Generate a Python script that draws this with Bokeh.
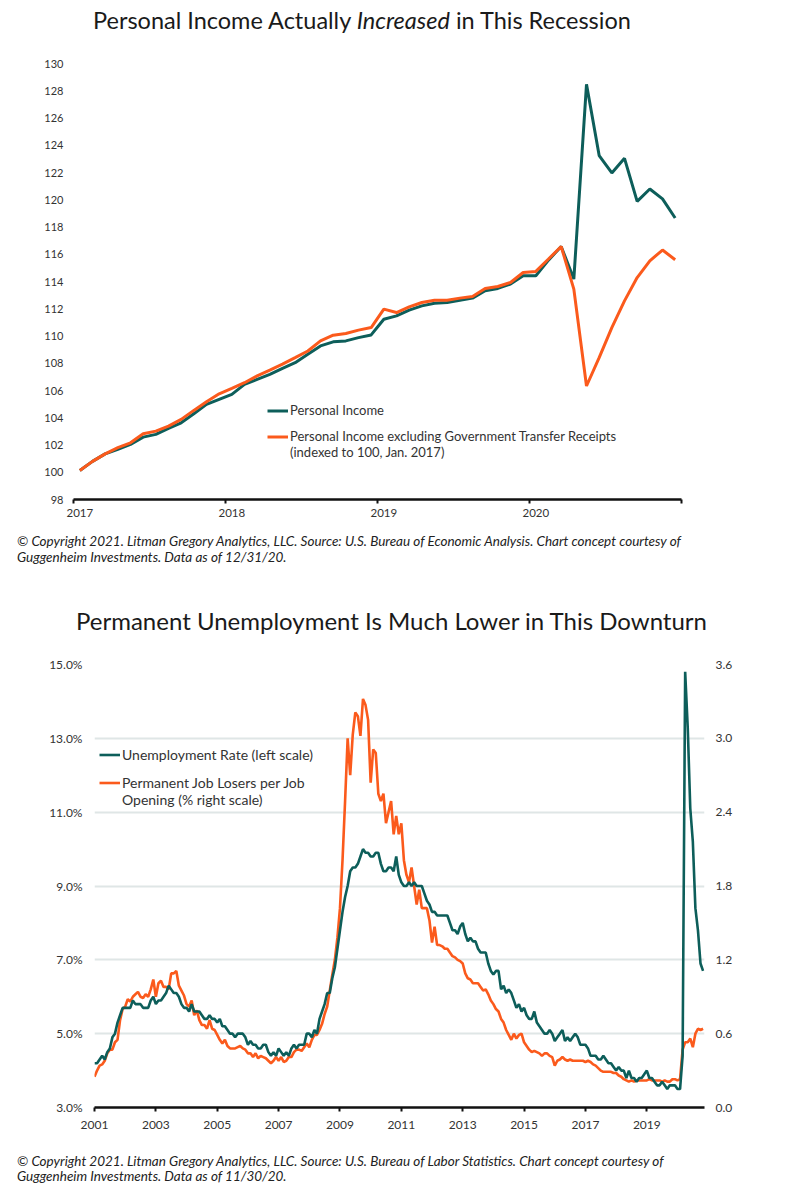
from bokeh.plotting import figure
from bokeh.models import (Range1d, LinearAxis, FixedTicker, PrintfTickFormatter,
                          CustomJSTickFormatter, Legend, LegendItem, Div)
from bokeh.layouts import column
from bokeh.embed import file_html
from bokeh.resources import INLINE

FONT = "Lato"
TEAL = "#0d5e5a"
ORANGE = "#fb5a1c"
TXT = "#333333"
W = 798

# ---------------- Chart 1 data: monthly, Jan 2017 .. Dec 2020 (index, Jan 2017 = 100)
pi_years = [2017, 2018, 2019, 2020]
personal_income = [
    100.13, 100.80, 101.35, 101.68, 102.04, 102.58, 102.78, 103.22, 103.63, 104.29, 104.98, 105.35,
    105.72, 106.45, 106.82, 107.19, 107.63, 108.04, 108.66, 109.27, 109.57, 109.64, 109.88, 110.08,
    111.23, 111.48, 111.90, 112.21, 112.41, 112.46, 112.63, 112.78, 113.32, 113.49, 113.81, 114.42,
    114.42, 115.57, 116.57, 114.18, 128.47, 123.24, 121.97, 123.04, 119.88, 120.79, 120.06, 118.66,
]
pi_ex_transfers = [
    100.13, 100.80, 101.35, 101.80, 102.16, 102.82, 103.02, 103.39, 103.88, 104.54, 105.18, 105.76,
    106.16, 106.57, 107.07, 107.49, 107.93, 108.41, 108.90, 109.64, 110.06, 110.18, 110.43, 110.62,
    111.97, 111.72, 112.14, 112.46, 112.63, 112.63, 112.78, 112.90, 113.49, 113.63, 113.93, 114.66,
    114.74, 115.65, 116.57, 113.44, 106.33, 108.41, 110.62, 112.58, 114.29, 115.52, 116.31, 115.60,
]
pi_y_ticks = list(range(98, 131, 2))

# ---------------- Chart 2 data: monthly, Jan 2001 .. Nov 2020
unrate_2001 = [4.2, 4.2, 4.3, 4.4, 4.3, 4.5, 4.6, 4.9, 5.0, 5.3, 5.5, 5.7]
unrate_2002 = [5.7, 5.7, 5.7, 5.9, 5.8, 5.8, 5.8, 5.7, 5.7, 5.7, 5.9, 6.0]
unrate_2003 = [5.8, 5.9, 5.9, 6.0, 6.1, 6.3, 6.2, 6.1, 6.1, 6.0, 5.8, 5.7]
unrate_2004 = [5.7, 5.6, 5.8, 5.6, 5.6, 5.6, 5.5, 5.4, 5.4, 5.5, 5.4, 5.4]
unrate_2005 = [5.3, 5.4, 5.2, 5.2, 5.1, 5.0, 5.0, 4.9, 5.0, 5.0, 5.0, 4.9]
unrate_2006 = [4.7, 4.8, 4.7, 4.7, 4.6, 4.6, 4.7, 4.7, 4.5, 4.4, 4.5, 4.4]
unrate_2007 = [4.6, 4.5, 4.4, 4.5, 4.4, 4.6, 4.7, 4.6, 4.7, 4.7, 4.7, 5.0]
unrate_2008 = [5.0, 4.9, 5.1, 5.0, 5.4, 5.6, 5.8, 6.1, 6.1, 6.5, 6.8, 7.3]
unrate_2009 = [7.8, 8.3, 8.7, 9.0, 9.4, 9.5, 9.5, 9.6, 9.8, 10.0, 9.9, 9.9]
unrate_2010 = [9.8, 9.8, 9.9, 9.9, 9.6, 9.4, 9.4, 9.5, 9.5, 9.4, 9.8, 9.3]
unrate_2011 = [9.1, 9.0, 9.0, 9.1, 9.0, 9.1, 9.0, 9.0, 9.0, 8.8, 8.6, 8.5]
unrate_2012 = [8.3, 8.3, 8.2, 8.2, 8.2, 8.2, 8.2, 8.0, 7.8, 7.8, 7.7, 7.9]
unrate_2013 = [8.0, 7.7, 7.5, 7.6, 7.5, 7.5, 7.3, 7.2, 7.2, 7.2, 6.9, 6.7]
unrate_2014 = [6.6, 6.7, 6.7, 6.2, 6.3, 6.1, 6.2, 6.1, 5.9, 5.7, 5.8, 5.6]
unrate_2015 = [5.7, 5.5, 5.4, 5.4, 5.6, 5.3, 5.2, 5.1, 5.0, 5.0, 5.1, 5.0]
unrate_2016 = [4.8, 4.9, 5.0, 5.1, 4.8, 4.9, 4.8, 4.9, 5.0, 4.9, 4.7, 4.7]
unrate_2017 = [4.7, 4.6, 4.4, 4.4, 4.4, 4.3, 4.3, 4.4, 4.3, 4.2, 4.2, 4.1]
unrate_2018 = [4.0, 4.1, 4.0, 4.0, 3.8, 4.0, 3.8, 3.8, 3.7, 3.8, 3.8, 3.9]
unrate_2019 = [4.0, 3.8, 3.8, 3.7, 3.6, 3.6, 3.7, 3.6, 3.5, 3.6, 3.6, 3.6]
unrate_2020 = [3.5, 3.5, 4.4, 14.8, 13.3, 11.1, 10.2, 8.4, 7.8, 6.9, 6.7]

perm_2001 = [0.25, 0.30, 0.34, 0.35, 0.38, 0.44, 0.47, 0.47, 0.53, 0.55, 0.71, 0.80]
perm_2002 = [0.82, 0.88, 0.86, 0.90, 0.92, 0.94, 0.90, 0.89, 0.92, 0.90, 0.96, 1.04]
perm_2003 = [0.90, 1.01, 1.03, 0.98, 0.98, 0.96, 1.09, 1.09, 1.11, 0.99, 0.95, 0.91]
perm_2004 = [0.84, 0.82, 0.87, 0.75, 0.79, 0.71, 0.67, 0.67, 0.64, 0.71, 0.64, 0.63]
perm_2005 = [0.59, 0.55, 0.52, 0.55, 0.50, 0.48, 0.48, 0.48, 0.49, 0.50, 0.48, 0.47]
perm_2006 = [0.44, 0.44, 0.41, 0.44, 0.40, 0.42, 0.41, 0.40, 0.38, 0.36, 0.38, 0.41]
perm_2007 = [0.38, 0.41, 0.37, 0.38, 0.41, 0.41, 0.45, 0.47, 0.47, 0.46, 0.49, 0.52]
perm_2008 = [0.49, 0.55, 0.59, 0.59, 0.63, 0.68, 0.76, 0.82, 0.95, 1.08, 1.20, 1.38]
perm_2009 = [1.62, 2.01, 2.49, 3.00, 2.70, 3.03, 3.21, 3.18, 3.02, 3.32, 3.27, 3.15]
perm_2010 = [2.64, 2.91, 2.88, 2.55, 2.49, 2.55, 2.31, 2.40, 2.49, 2.22, 2.37, 2.22]
perm_2011 = [2.31, 2.01, 1.89, 1.83, 1.95, 1.80, 1.65, 1.77, 1.62, 1.62, 1.62, 1.52]
perm_2012 = [1.34, 1.47, 1.32, 1.32, 1.31, 1.29, 1.29, 1.26, 1.23, 1.22, 1.20, 1.19]
perm_2013 = [1.17, 1.09, 1.05, 1.04, 1.01, 1.01, 1.01, 0.98, 0.95, 0.96, 0.92, 0.87]
perm_2014 = [0.84, 0.80, 0.78, 0.72, 0.69, 0.63, 0.59, 0.55, 0.60, 0.56, 0.59, 0.60]
perm_2015 = [0.53, 0.50, 0.47, 0.45, 0.46, 0.45, 0.44, 0.42, 0.44, 0.44, 0.42, 0.41]
perm_2016 = [0.34, 0.38, 0.39, 0.41, 0.39, 0.38, 0.39, 0.38, 0.38, 0.38, 0.38, 0.38]
perm_2017 = [0.37, 0.38, 0.37, 0.35, 0.34, 0.32, 0.30, 0.29, 0.29, 0.29, 0.29, 0.28]
perm_2018 = [0.28, 0.26, 0.25, 0.23, 0.22, 0.21, 0.22, 0.21, 0.22, 0.22, 0.22, 0.22]
perm_2019 = [0.22, 0.23, 0.22, 0.22, 0.22, 0.22, 0.21, 0.22, 0.21, 0.21, 0.23, 0.23]
perm_2020 = [0.22, 0.23, 0.47, 0.53, 0.53, 0.56, 0.49, 0.60, 0.64, 0.63, 0.64]

left_ticks = [3, 5, 7, 9, 11, 13, 15]
right_ticks = [0.0, 0.6, 1.2, 1.8, 2.4, 3.0, 3.6]
year_ticks_2 = [2001, 2003, 2005, 2007, 2009, 2011, 2013, 2015, 2017, 2019]

unrate = (unrate_2001 + unrate_2002 + unrate_2003 + unrate_2004 + unrate_2005 + unrate_2006 +
          unrate_2007 + unrate_2008 + unrate_2009 + unrate_2010 + unrate_2011 + unrate_2012 +
          unrate_2013 + unrate_2014 + unrate_2015 + unrate_2016 + unrate_2017 + unrate_2018 +
          unrate_2019 + unrate_2020)
perm = (perm_2001 + perm_2002 + perm_2003 + perm_2004 + perm_2005 + perm_2006 + perm_2007 +
        perm_2008 + perm_2009 + perm_2010 + perm_2011 + perm_2012 + perm_2013 + perm_2014 +
        perm_2015 + perm_2016 + perm_2017 + perm_2018 + perm_2019 + perm_2020)

# time coordinates (fractional years)
x1 = [pi_years[0] + (i + 0.5) / 12 for i in range(len(personal_income))]
x2 = [2001 + i / 12 for i in range(len(unrate))]


def base_fig(**kw):
    p = figure(output_backend="svg", toolbar_location=None, **kw)
    p.outline_line_color = None
    p.background_fill_color = "white"
    p.border_fill_color = "white"
    try:
        p.frame_align = False
    except Exception:
        pass
    return p


def legend_style(lg, size="13px"):
    lg.border_line_color = None
    lg.background_fill_alpha = 0
    lg.padding = 0
    lg.margin = 0
    lg.spacing = 0
    lg.glyph_width = 21
    lg.glyph_height = 15
    lg.label_height = 15
    lg.label_standoff = 2
    lg.label_text_font = FONT
    lg.label_text_font_size = size
    lg.label_text_color = TXT
    return lg


# ================= Chart 1 =================
p1 = base_fig(width=W, height=485, x_range=Range1d(2017, 2021), y_range=Range1d(98, 130),
              min_border_left=73, min_border_right=W - 681, min_border_top=23, min_border_bottom=26)
p1.grid.visible = False

r_pi = p1.line(x1, personal_income, line_color=TEAL, line_width=3)
r_ex = p1.line(x1, pi_ex_transfers, line_color=ORANGE, line_width=3)
r_blank1 = p1.line([], [], line_alpha=0)

xa = p1.xaxis[0]
xa.ticker = FixedTicker(ticks=[y + 1 / 24 for y in pi_years],
                        minor_ticks=pi_years + [pi_years[-1] + 1])
xa.formatter = CustomJSTickFormatter(code="return Math.floor(tick).toString();")
xa.major_tick_line_color = None
xa.major_tick_out = 0
xa.major_tick_in = 0
xa.minor_tick_line_color = "#111111"
xa.minor_tick_line_width = 2
xa.minor_tick_out = 4
xa.minor_tick_in = 0
xa.axis_line_color = "#111111"
xa.axis_line_width = 2.5
xa.major_label_standoff = 5
xa.major_label_text_font = FONT
xa.major_label_text_font_size = "11.5px"
xa.major_label_text_color = TXT

ya = p1.yaxis[0]
ya.ticker = FixedTicker(ticks=pi_y_ticks)
ya.axis_line_color = None
ya.major_tick_line_color = None
ya.minor_tick_line_color = None
ya.major_tick_out = 0
ya.major_label_standoff = 10
ya.major_label_text_font = FONT
ya.major_label_text_font_size = "11px"
ya.major_label_text_color = TXT

lg1a = legend_style(Legend(items=[LegendItem(label="Personal Income", renderers=[r_pi])],
                           location=(194, 81)))
lg1b = legend_style(Legend(items=[
    LegendItem(label="Personal Income excluding Government Transfer Receipts", renderers=[r_ex]),
    LegendItem(label="(indexed to 100, Jan. 2017)", renderers=[r_blank1]),
], location=(194, 39)))
p1.add_layout(lg1a)
p1.add_layout(lg1b)

# ================= Chart 2 =================
p2 = base_fig(width=W, height=493, x_range=Range1d(2001, 2020.88), y_range=Range1d(3, 15),
              min_border_left=94, min_border_right=W - 704, min_border_top=17, min_border_bottom=33)
p2.extra_y_ranges = {"right": Range1d(0, 3.6)}
p2.xgrid.visible = False

r_perm = p2.line(x2[:len(perm)], perm, line_color=ORANGE, line_width=2.6, y_range_name="right")
r_un = p2.line(x2, unrate, line_color=TEAL, line_width=2.6)
r_blank2 = p2.line([], [], line_alpha=0)

ya2 = p2.yaxis[0]
ya2.ticker = FixedTicker(ticks=left_ticks)
ya2.formatter = PrintfTickFormatter(format="%.1f%%")
ya2.axis_line_color = None
ya2.major_tick_line_color = None
ya2.minor_tick_line_color = None
ya2.major_tick_out = 0
ya2.major_label_standoff = 12
ya2.major_label_text_font = FONT
ya2.major_label_text_font_size = "12px"
ya2.major_label_text_color = TXT

p2.ygrid.ticker = FixedTicker(ticks=left_ticks)
p2.ygrid.grid_line_color = "#dfe6e6"
p2.ygrid.grid_line_width = 2

ra = LinearAxis(y_range_name="right", ticker=FixedTicker(ticks=right_ticks),
                formatter=PrintfTickFormatter(format="%.1f"))
ra.axis_line_color = None
ra.major_tick_line_color = None
ra.minor_tick_line_color = None
ra.major_tick_out = 0
ra.major_label_standoff = 11
ra.major_label_text_font = FONT
ra.major_label_text_font_size = "12px"
ra.major_label_text_color = TXT
p2.add_layout(ra, "right")

xa2 = p2.xaxis[0]
xa2.ticker = FixedTicker(ticks=year_ticks_2)
xa2.formatter = CustomJSTickFormatter(code="return Math.round(tick).toString();")
xa2.major_tick_line_color = "#111111"
xa2.major_tick_line_width = 2
xa2.major_tick_out = 4
xa2.major_tick_in = 0
xa2.minor_tick_line_color = None
xa2.axis_line_color = "#111111"
xa2.axis_line_width = 2.5
xa2.major_label_standoff = 9
xa2.major_label_text_font = FONT
xa2.major_label_text_font_size = "12px"
xa2.major_label_text_color = TXT

lg2a = legend_style(Legend(items=[LegendItem(label="Unemployment Rate (left scale)", renderers=[r_un])],
                           location=(5, 344)), size="14px")
lg2b = legend_style(Legend(items=[
    LegendItem(label="Permanent Job Losers per Job", renderers=[r_perm]),
    LegendItem(label="Opening (% right scale)", renderers=[r_blank2]),
], location=(5, 299)), size="14px")
p2.add_layout(lg2a)
p2.add_layout(lg2b)

# ================= text blocks =================
title_style = {"font-family": FONT, "color": "#1a1a1a", "white-space": "nowrap"}
foot_style = {"font-family": FONT, "font-size": "13.5px", "font-style": "italic", "color": "#222222",
              "white-space": "nowrap", "padding-left": "17px"}

title1 = Div(text='Personal Income Actually <i>Increased</i> in This Recession',
             width=W, height=40, margin=(0, 0, 0, 0),
             styles=dict(title_style, **{"font-size": "23.5px", "line-height": "40px",
                                         "padding-left": "93px"}))
foot1 = Div(text="© Copyright 2021. Litman Gregory Analytics, LLC. Source: U.S. Bureau of Economic "
                 "Analysis. Chart concept courtesy of<br>Guggenheim Investments. Data as of 12/31/20.",
            width=W, height=70, margin=(0, 0, 0, 0),
            styles=dict(foot_style, **{"padding-top": "8px", "line-height": "16px"}))
title2 = Div(text="Permanent Unemployment Is Much Lower in This Downturn",
             width=W, height=52, margin=(0, 0, 0, 0),
             styles=dict(title_style, **{"font-size": "24px", "line-height": "52px",
                                         "padding-left": "76px"}))
foot2 = Div(text="© Copyright 2021. Litman Gregory Analytics, LLC. Source: U.S. Bureau of Labor "
                 "Statistics. Chart concept courtesy of<br>Guggenheim Investments. Data as of 11/30/20.",
            width=W, height=50, margin=(0, 0, 0, 0),
            styles=dict(foot_style, **{"padding-top": "14px", "line-height": "15px"}))

page = column(title1, p1, foot1, title2, p2, foot2, spacing=0)

open("out.html", "w").write(file_html(page, INLINE))
